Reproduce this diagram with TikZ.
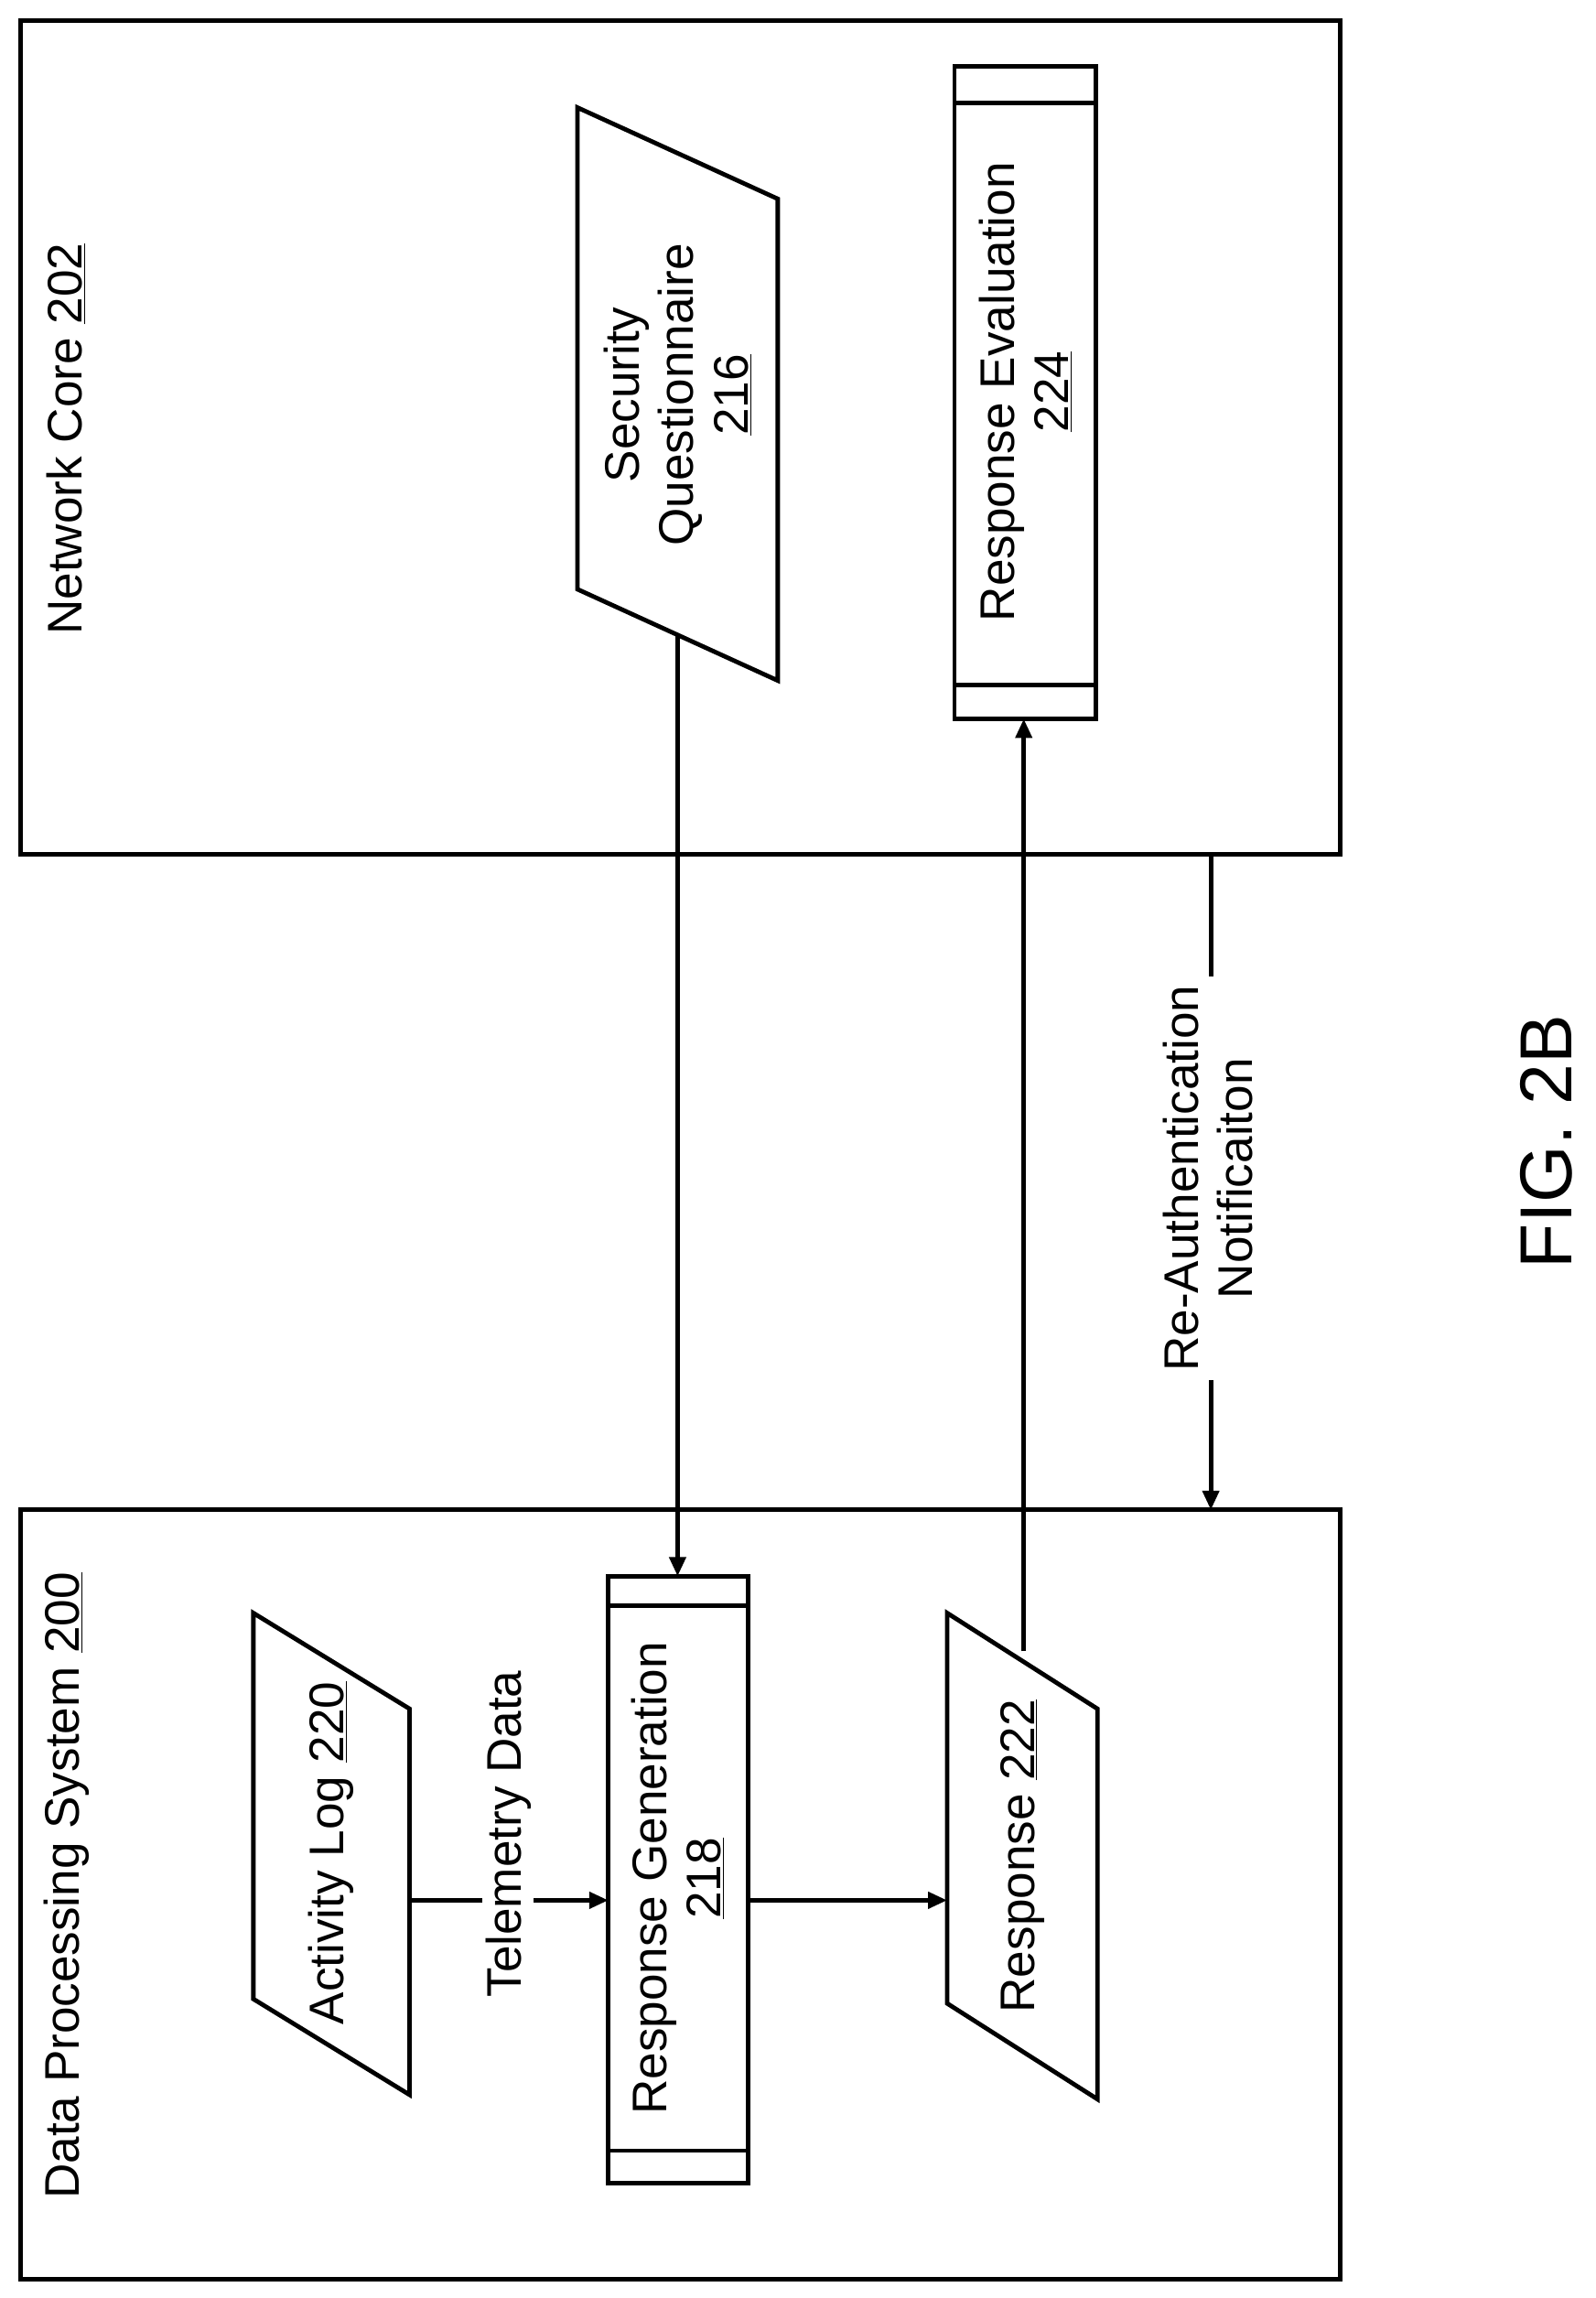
\documentclass[tikz,border=0pt]{standalone}
\usepackage{fontspec}
\setmainfont{Liberation Sans}
\usetikzlibrary{arrows.meta}
\begin{document}
\begin{tikzpicture}[x=1pt,y=-1pt,
  box/.style={line width=3pt},
  shp/.style={line width=3pt,fill=white},
  arr/.style={line width=3pt,-{Triangle[length=13pt,width=11pt]}},
  lbl/.style={rotate=90,font=\fontsize{33}{37}\selectfont,align=center,inner sep=2pt}]
\useasboundingbox (0,0) rectangle (1083,1560);
% containers
\draw[box] (14,14) rectangle (910,580);
\draw[box] (14,1025) rectangle (910,1547);
\node[lbl,anchor=center] (nc) at (45,298) {Network Core \underline{202}};
\node[lbl,anchor=center] (dps) at (45,1280) {Data Processing System \underline{200}};
% security questionnaire
\draw[shp] (392,73) -- (528,135) -- (528,462) -- (392,400) -- cycle;
\node[lbl] (sq) at (460,268) {Security\\Questionnaire\\\underline{216}};
% response evaluation
\draw[shp] (648,45) rectangle (744,488);
\draw[box] (648,70) -- (744,70) (648,465) -- (744,465);
\node[lbl] (re) at (696,266) {Response Evaluation\\\underline{224}};
% activity log
\draw[shp] (172,1095) -- (278,1160) -- (278,1422) -- (172,1357) -- cycle;
\node[lbl] (al) at (225,1258) {Activity Log \underline{220}};
% response generation
\draw[shp] (413,1070) rectangle (508,1482);
\draw[box] (413,1090) -- (508,1090) (413,1460) -- (508,1460);
\node[lbl] (rg) at (460,1275) {Response Generation\\\underline{218}};
% response
\draw[shp] (643,1095) -- (745,1160) -- (745,1425) -- (643,1360) -- cycle;
\node[lbl] (rs) at (694,1260) {Response \underline{222}};
% connectors
\coordinate (sqb) at (460,431);
\coordinate (rgt) at (460,1070);
\draw[arr] (sqb) -- (rgt);
\coordinate (rst) at (695,1121);
\coordinate (reb) at (695,488);
\draw[arr] (rst) -- (reb);
\coordinate (alr) at (278,1290);
\coordinate (rgl) at (413,1290);
\draw[arr] (alr) -- (rgl);
\node[lbl,fill=white] (tel) at (345,1245) {Telemetry Data};
\coordinate (rgr) at (508,1290);
\coordinate (rsl) at (643,1290);
\draw[arr] (rgr) -- (rsl);
\coordinate (nb) at (822,580);
\coordinate (db) at (822,1025);
\draw[arr] (nb) -- (db);
\node[lbl,fill=white,inner sep=6pt] (ra) at (820,800) {Re-Authentication\\Notificaiton};
\node[rotate=90,font=\fontsize{50}{58}\selectfont] (fig) at (1050,775) {FIG. 2B};
\end{tikzpicture}
\end{document}
